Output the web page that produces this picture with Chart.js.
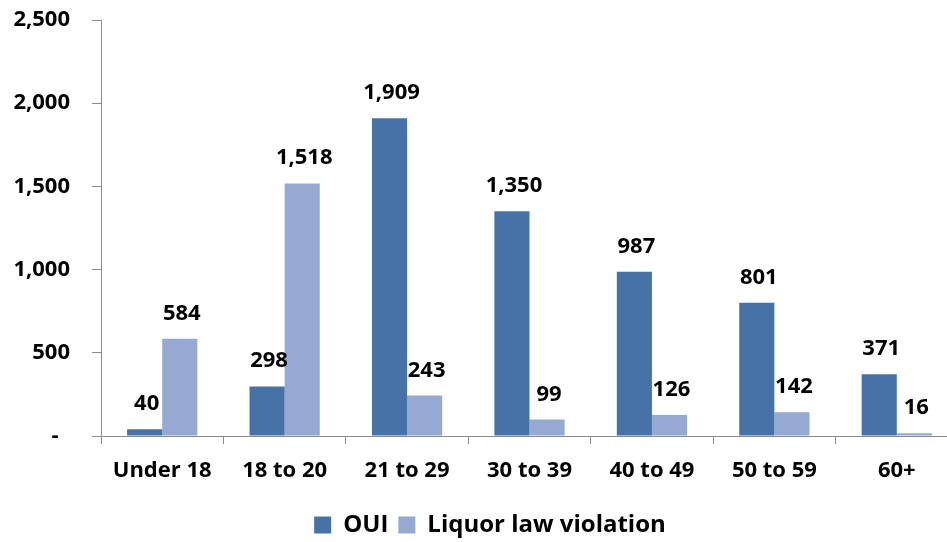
<!DOCTYPE html>
<html>
<head>
<meta charset="utf-8">
<script src="https://cdn.jsdelivr.net/npm/chart.js@4.4.1/dist/chart.umd.min.js"></script>
<style>
  html, body { margin: 0; padding: 0; background: #fff; overflow: hidden; }
  #wrap { width: 980px; height: 542px; position: relative; }
</style>
</head>
<body>
<div id="wrap"><canvas id="c" width="980" height="542"></canvas></div>
<script>
const categories = ["Under 18", "18 to 20", "21 to 29", "30 to 39", "40 to 49", "50 to 59", "60+"];
const ouiValues = [40, 298, 1909, 1350, 987, 801, 371];
const liquorValues = [584, 1518, 243, 99, 126, 142, 16];
const seriesNames = ["OUI", "Liquor law violation"];
const yTicks = [0, 500, 1000, 1500, 2000, 2500];

const FONT = "'Open Sans', 'Liberation Sans', sans-serif";
const fmt = v => v.toLocaleString('en-US');

const dataLabels = {
  id: 'dataLabels',
  afterDatasetsDraw(chart) {
    const ctx = chart.ctx;
    ctx.save();
    ctx.font = "bold 22px " + FONT;
    ctx.fillStyle = '#000';
    ctx.textAlign = 'center';
    ctx.textBaseline = 'alphabetic';
    chart.data.datasets.forEach((ds, i) => {
      const meta = chart.getDatasetMeta(i);
      meta.data.forEach((el, j) => {
        ctx.fillText(fmt(ds.data[j]), el.x + 2, el.y - 19);
      });
    });
    ctx.restore();
  }
};

// shift the legend so it is centred on the visible page like the reference
const legendShift = {
  id: 'legendShift',
  afterLayout(chart) {
    if (chart.legend) { chart.legend.left += 11; chart.legend.right += 11; }
  }
};

new Chart(document.getElementById('c'), {
  type: 'bar',
  data: {
    labels: categories,
    datasets: [
      { label: seriesNames[0], data: ouiValues, backgroundColor: '#4672A8' },
      { label: seriesNames[1], data: liquorValues, backgroundColor: '#95A9D2' }
    ]
  },
  options: {
    responsive: false,
    animation: false,
    devicePixelRatio: 1,
    layout: { padding: { left: 0, right: 22, top: 20, bottom: -5 } },
    datasets: { bar: { categoryPercentage: 70 / 122, barPercentage: 1 } },
    plugins: {
      tooltip: { enabled: false },
      legend: {
        position: 'bottom',
        labels: {
          boxWidth: 17, boxHeight: 17, padding: 10,
          color: '#000',
          font: { family: FONT, size: 24, weight: 'bold' }
        }
      }
    },
    scales: {
      x: {
        afterFit: a => { a.height = 67; a.paddingLeft = 0; a.paddingRight = 0; },
        grid: { display: true, drawOnChartArea: false, drawTicks: true, tickLength: 8, color: '#8c8c8c', offset: true },
        border: { display: true, color: '#8c8c8c', width: 1 },
        ticks: { color: '#000', padding: 14, font: { family: FONT, size: 22, weight: 'bold' } }
      },
      y: {
        min: 0, max: 2500,
        afterFit: a => { a.width = 101; a.paddingTop = 0; a.paddingBottom = 0; },
        afterBuildTicks: a => { a.ticks = yTicks.map(v => ({ value: v })); },
        grid: { display: true, drawOnChartArea: false, drawTicks: true, tickLength: 9, color: '#8c8c8c' },
        border: { display: true, color: '#8c8c8c', width: 1 },
        ticks: {
          color: '#000', padding: 22,
          font: { family: FONT, size: 22, weight: 'bold' },
          callback: v => v === 0 ? '-  ' : fmt(v)
        }
      }
    }
  },
  plugins: [dataLabels, legendShift]
});
</script>
</body>
</html>
